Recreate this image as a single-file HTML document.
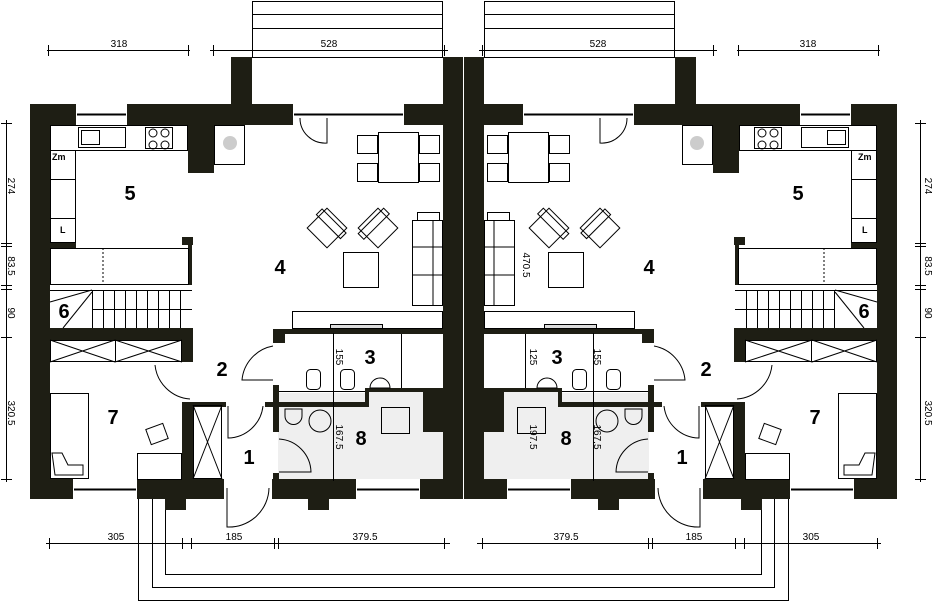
<!DOCTYPE html>
<html><head><meta charset="utf-8"><style>
html,body{margin:0;padding:0;background:#fff;}
svg{display:block;font-family:"Liberation Sans",sans-serif;}
.n{font-weight:bold;font-size:20px;}
.d{font-size:10px;}
</style></head><body>
<svg width="933" height="602" viewBox="0 0 933 602" xmlns="http://www.w3.org/2000/svg">
<defs>
<g id="L" stroke="#000" fill="none" stroke-width="1">
 <rect x="252.5" y="1.5" width="190" height="56"/>
 <line x1="252" y1="14.5" x2="443" y2="14.5"/><line x1="252" y1="28.5" x2="443" y2="28.5"/>
 <path d="M278 393 H365 V388 H423 V432 H443 V479 H278 Z" fill="#efefef" stroke="none"/>
 <g fill="#1e1e14" stroke="none">
  <rect x="30" y="104" width="20" height="395"/>
  <rect x="30" y="104" width="46" height="21"/>
  <rect x="127" y="104" width="166" height="21"/>
  <rect x="231" y="57" width="21" height="68"/>
  <rect x="404" y="104" width="59" height="21"/>
  <rect x="443" y="57" width="20" height="442"/>
  <rect x="188" y="125" width="26" height="48"/>
  <rect x="50" y="243" width="26" height="5"/>
  <rect x="182" y="237" width="11" height="8"/>
  <rect x="188" y="245" width="4" height="40"/>
  <rect x="50" y="328" width="143" height="12"/>
  <rect x="182" y="340" width="11" height="22"/>
  <rect x="182" y="402" width="11" height="77"/>
  <rect x="182" y="402" width="44" height="5"/>
  <rect x="273" y="329" width="170" height="5"/>
  <rect x="273" y="329" width="12" height="14"/>
  <rect x="273" y="385" width="6" height="47"/>
  <rect x="265" y="402" width="100" height="5"/>
  <path d="M365 388 H443 V432 H423 V392 H369 V407 H365 Z"/>
  <rect x="273" y="473" width="6" height="6"/>
  <rect x="30" y="479" width="43" height="20"/>
  <rect x="137" y="479" width="87" height="20"/>
  <rect x="272" y="479" width="84" height="20"/>
  <rect x="420" y="479" width="43" height="20"/>
  <rect x="165" y="499" width="21" height="11"/>
  <rect x="308" y="499" width="21" height="11"/>
 </g>
 <line x1="77" y1="114.5" x2="126" y2="114.5" stroke-width="2"/>
 <line x1="294" y1="114.5" x2="403" y2="114.5" stroke-width="2"/>
 <line x1="74" y1="489.5" x2="136" y2="489.5" stroke-width="2"/>
 <line x1="357" y1="489.5" x2="419" y2="489.5" stroke-width="2"/>
 <rect x="50.5" y="125.5" width="137" height="25"/>
 <rect x="50.5" y="150.5" width="25" height="92"/>
 <line x1="50" y1="179.5" x2="76" y2="179.5"/><line x1="50" y1="218.5" x2="76" y2="218.5"/>
 <rect x="78.5" y="127.5" width="47" height="20"/>
 <rect x="81.5" y="130.5" width="18" height="14"/>
 <rect x="145.5" y="127.5" width="27" height="21"/>
 <circle cx="153" cy="133" r="4"/><circle cx="165" cy="133" r="4"/><circle cx="153" cy="145" r="4"/><circle cx="165" cy="145" r="4"/>
 <rect x="214.5" y="125.5" width="30" height="39"/>
 <circle cx="230" cy="143" r="7" fill="#ccc" stroke="none"/>
 <rect x="50.5" y="248.5" width="138" height="36"/>
 <line x1="103" y1="248" x2="103" y2="285" stroke-dasharray="2,2"/>
 <line x1="50" y1="290.5" x2="192" y2="290.5"/>
 <line x1="92" y1="309.5" x2="192" y2="309.5"/>
 <g>
  <line x1="92.5" y1="290" x2="92.5" y2="328"/><line x1="103.5" y1="290" x2="103.5" y2="328"/>
  <line x1="114.5" y1="290" x2="114.5" y2="328"/><line x1="125.5" y1="290" x2="125.5" y2="328"/>
  <line x1="136.5" y1="290" x2="136.5" y2="328"/><line x1="147.5" y1="290" x2="147.5" y2="328"/>
  <line x1="158.5" y1="290" x2="158.5" y2="328"/><line x1="169.5" y1="290" x2="169.5" y2="328"/>
  <line x1="180.5" y1="290" x2="180.5" y2="328"/>
 </g>
 <line x1="50" y1="302" x2="92" y2="290"/><line x1="63" y1="328" x2="92" y2="292"/>
 <rect x="50.5" y="340.5" width="65" height="21"/><path d="M50 340 L115 362 M50 362 L115 340"/>
 <rect x="115.5" y="340.5" width="66" height="21"/><path d="M115 340 L182 362 M115 362 L182 340"/>
 <rect x="193.5" y="405.5" width="28" height="73"/><path d="M193 405 L222 479 M193 479 L222 405"/>
 <path d="M155 365 A38 38 0 0 0 190 399"/>
 <path d="M273 346 A38 38 0 0 0 242 380 H273"/>
 <path d="M228 406 V438 A36 36 0 0 0 263 406"/>
 <path d="M279 439 A34 34 0 0 1 311 472 H279"/>
 <path d="M227 488 V527 A40 40 0 0 0 269 488"/>
 <path d="M327 118 V143 A25 25 0 0 1 300 118"/>
 <rect x="50.5" y="393.5" width="38" height="85"/>
 <path d="M52 453 H62 L68 465 H83 V475 H55 Z"/>
 <rect x="137.5" y="453.5" width="44" height="26"/>
 <rect x="148" y="426" width="18" height="16" transform="rotate(-20 157 434)"/>
 <rect x="378.5" y="132.5" width="40" height="50"/>
 <rect x="357.5" y="135.5" width="20" height="18"/><rect x="419.5" y="135.5" width="20" height="18"/>
 <rect x="357.5" y="163.5" width="20" height="18"/><rect x="419.5" y="163.5" width="20" height="18"/>
 <g transform="rotate(45 327 228)"><rect x="313" y="214" width="28" height="28"/><rect x="310" y="218" width="34" height="8"/></g>
 <g transform="rotate(-45 378 228)"><rect x="364" y="214" width="28" height="28"/><rect x="360" y="218" width="36" height="8"/></g>
 <rect x="343.5" y="252.5" width="35" height="35"/>
 <rect x="412.5" y="220.5" width="30" height="85"/>
 <line x1="433" y1="220" x2="433" y2="306"/>
 <line x1="412" y1="247" x2="443" y2="247"/><line x1="412" y1="275" x2="443" y2="275"/>
 <rect x="417.5" y="212.5" width="22" height="8"/>
 <rect x="292.5" y="311.5" width="150" height="17"/>
 <rect x="330.5" y="324.5" width="52" height="4" fill="#ddd"/>
 <line x1="401.5" y1="334" x2="401.5" y2="388"/>
 <line x1="279" y1="391.5" x2="365" y2="391.5"/>
 <rect x="306.5" y="369.5" width="14" height="20" rx="4"/>
 <rect x="340.5" y="369.5" width="14" height="20" rx="4"/>
 <path d="M370 388 A10 10 0 0 1 390 388 Z"/>
 <path d="M285 409 H302 V416 A8 8 0 0 1 285 416 Z"/>
 <circle cx="320" cy="421" r="11"/>
 <rect x="381.5" y="407.5" width="28" height="26"/>
 <line x1="333.5" y1="333" x2="333.5" y2="481"/>
 <path d="M138.5 499 V600.5 H470 M152.5 499 V587.5 H470 M165.5 510 V574.5 H470"/>
 <g stroke-width="1">
  <line x1="47" y1="50.5" x2="190" y2="50.5"/>
  <path d="M48.5 45 V56 M188.5 45 V56"/>
  <line x1="210" y1="50.5" x2="448" y2="50.5"/>
  <path d="M213.5 45 V56 M444.5 45 V56"/>
  <line x1="46" y1="543.5" x2="450" y2="543.5"/>
  <path d="M49.5 538 V549 M182.5 538 V549 M191.5 538 V549 M274.5 538 V549 M278.5 538 V549 M444.5 538 V549"/>
  <line x1="6.5" y1="120" x2="6.5" y2="482"/>
  <path d="M1 123.5 H12 M1 243.5 H12 M1 246.5 H12 M1 285.5 H12 M1 289.5 H12 M1 337.5 H12 M1 479.5 H12"/>
 </g>
</g>
</defs>
<use href="#L"/>
<use href="#L" transform="translate(927,0) scale(-1,1)"/>
<g fill="#000" text-anchor="middle">
 <text class="d" x="119" y="47">318</text><text class="d" x="329" y="47">528</text>
 <text class="d" x="598" y="47">528</text><text class="d" x="808" y="47">318</text>
 <text class="d" x="116" y="540">305</text><text class="d" x="234" y="540">185</text><text class="d" x="365" y="540">379.5</text>
 <text class="d" x="566" y="540">379.5</text><text class="d" x="694" y="540">185</text><text class="d" x="811" y="540">305</text>
 <g class="d">
  <text transform="translate(8,186) rotate(90)">274</text>
  <text transform="translate(8,266) rotate(90)">83.5</text>
  <text transform="translate(8,313) rotate(90)">90</text>
  <text transform="translate(8,413) rotate(90)">320.5</text>
  <text transform="translate(925,186) rotate(90)">274</text>
  <text transform="translate(925,266) rotate(90)">83.5</text>
  <text transform="translate(925,313) rotate(90)">90</text>
  <text transform="translate(925,413) rotate(90)">320.5</text>
  <text transform="translate(336,357) rotate(90)">155</text>
  <text transform="translate(336,437) rotate(90)">167.5</text>
  <text transform="translate(594,357) rotate(90)">155</text>
  <text transform="translate(594,437) rotate(90)">167.5</text>
  <text transform="translate(530,357) rotate(90)">125</text>
  <text transform="translate(530,437) rotate(90)">197.5</text>
  <text transform="translate(523,265) rotate(90)">470.5</text>
 </g>
 <g class="n">
  <text x="130" y="200">5</text><text x="280" y="274">4</text><text x="64" y="318">6</text>
  <text x="222" y="376">2</text><text x="113" y="424">7</text><text x="249" y="464">1</text>
  <text x="370" y="364">3</text><text x="361" y="445">8</text>
  <text x="798" y="200">5</text><text x="649" y="274">4</text><text x="864" y="318">6</text>
  <text x="706" y="376">2</text><text x="815" y="424">7</text><text x="682" y="464">1</text>
  <text x="557" y="364">3</text><text x="566" y="445">8</text>
 </g>
 <g font-size="9" font-weight="bold" text-anchor="start">
  <text x="52" y="160">Zm</text><text x="60" y="233">L</text>
  <text x="858" y="160">Zm</text><text x="862" y="233">L</text>
 </g>
</g>
</svg>
</body></html>
